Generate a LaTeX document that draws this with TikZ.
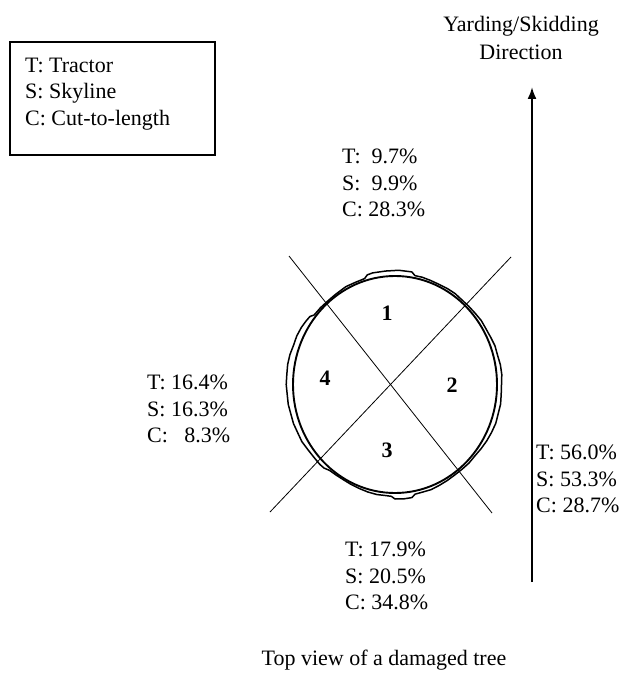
\documentclass[tikz,border=0pt]{standalone}
\usepackage{fontspec}
\setmainfont{Liberation Serif}
\usetikzlibrary{arrows.meta}
\begin{document}
\begin{tikzpicture}[x=1pt,y=-1pt,
  lbl/.style={font=\fontsize{22}{26.5}\selectfont, inner sep=0pt, align=left, anchor=west},
  num/.style={font=\fontsize{22}{26}\selectfont\bfseries, inner sep=0pt},
  crossline/.style={line width=0.8pt},
  bark/.style={line width=1.5pt, line join=round},
  ring/.style={line width=1.9pt},
  legendbox/.style={draw, line width=1.2pt, minimum width=205pt, minimum height=113pt, inner sep=0pt}]
\useasboundingbox (0,0) rectangle (641,684);
% legend
\node[legendbox] (legend) at (112.5,98.5) {};
\node[lbl] (legtext) at (25,94) {T: Tractor\\S: Skyline\\C: Cut-to-length};
% heading
\node[font=\fontsize{22}{28}\selectfont, inner sep=0pt, align=center] (head) at (521,38) {Yarding/Skidding\\Direction};
% arrow
\coordinate (arrbot) at (532,582);
\coordinate (arrtop) at (532,87);
\draw[line width=2pt, -{Latex[length=12pt,width=9pt]}] (arrbot) -- (arrtop);
% cross lines
\coordinate (tl) at (289,256);
\coordinate (br) at (492,513);
\coordinate (tr) at (511,257);
\coordinate (bl) at (270,512);
\draw[crossline] (tl) -- (br);
\draw[crossline] (tr) -- (bl);
% inner ring
\draw[ring] (395,384.5) ellipse [x radius=102, y radius=108.5];
% bark outline
\draw[bark] ({395+106.5*cos(0)},{384.5-112.5*sin(0)})
  \foreach \a/\d in {5/5.2,10/5,15/4.2,20/4.4,25/3.5,30/3,35/3.2,40/2.5,45/2.2,50/2,55/2.6,60/2.4,65/2,70/2.2,75/2.6,79/2.4,81/5.5,88/5.8,95/5.4,102/5.6,105/5,107/2.2,112/2,118/2.4,125/1.6,130/1.4,136/1.8,141/2,143/4.5,146/5.2,150/6,155/6.4,160/6,165/6.8,170/7,175/6.6,180/6.8,185/6.2,190/6.4,195/5.8,200/6,205/5.4,210/5.6,215/4.6,220/4.2,225/4.4,228/4,231/2,235/1.6,240/1.4,245/1.8,250/2.2,255/2.8,260/3.2,265/3,268/3.4,270/6,275/6.2,279/6,281/3.2,285/3,290/3.4,295/2.8,300/2.4,305/2,310/2.2,315/2.6,320/2.4,325/3.2,330/4,335/4.6,340/5.2,345/4.8,350/5.2,355/4.6}
  { -- ({395+(102+\d)*cos(\a)},{384.5-(108.5+\d)*sin(\a)}) } -- cycle;
% sector numbers
\node[num] (n1) at (387,313) {1};
\node[num] (n2) at (452,385) {2};
\node[num] (n3) at (387,450) {3};
\node[num] (n4) at (325,378) {4};
% percentage blocks
\node[lbl] (top) at (342,183) {T:\ \ 9.7\%\\S:\ \ 9.9\%\\C: 28.3\%};
\node[lbl] (left) at (147,409) {T: 16.4\%\\S: 16.3\%\\C:\ \ \ 8.3\%};
\node[lbl] (right) at (536,479) {T: 56.0\%\\S: 53.3\%\\C: 28.7\%};
\node[lbl] (bottom) at (345,576) {T: 17.9\%\\S: 20.5\%\\C: 34.8\%};
% caption
\node[font=\fontsize{22}{26}\selectfont, inner sep=0pt] (caption) at (384,660) {Top view of a damaged tree};
\end{tikzpicture}
\end{document}
